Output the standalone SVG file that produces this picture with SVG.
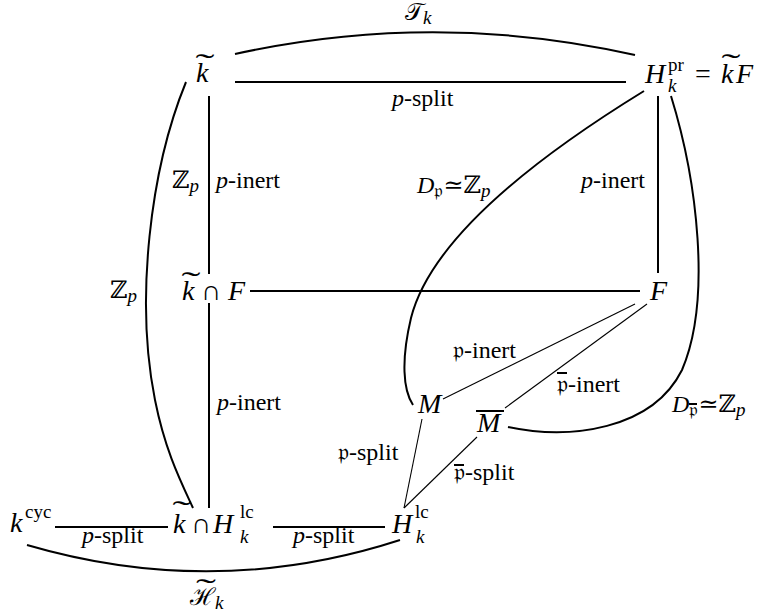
<svg xmlns="http://www.w3.org/2000/svg" width="761" height="613" viewBox="0 0 761 613">
<style>
text{font-family:"Liberation Serif","DejaVu Serif",serif;fill:#000}
.n{font-size:28px}
.l{font-size:24px}
.s{font-size:19px}
.i{font-style:italic}
.t{font-size:30px;text-anchor:middle}
.thick{fill:none;stroke:#000;stroke-width:2}
.thin{fill:none;stroke:#000;stroke-width:1.1}
</style>
<rect width="761" height="613" fill="#fff"/>
<g id="connectors">
<path class="thick" d="M235 54 Q435 10 635 55"/>
<path class="thick" d="M235 82 H626"/>
<path class="thick" d="M209 96 V274"/>
<path class="thick" d="M658 96 V273"/>
<path class="thick" d="M250 291 H640"/>
<path class="thick" d="M209 303 V508"/>
<path class="thick" d="M55 527 H168"/>
<path class="thick" d="M273 527 H385"/>
<path class="thick" d="M27 545 Q215 600 400 540"/>
<path class="thick" d="M186 82 C150 170 135 300 155 400 C165 450 180 480 193 508"/>
<path class="thick" d="M644 91 C548 150 432 235 411 318 C401 360 403 390 413 405"/>
<path class="thick" d="M671 96 C697 180 712 300 682 370 C652 430 570 440 508 427"/>
<path class="thin" d="M635 304 L443 399"/>
<path class="thin" d="M647 304 L505 408"/>
<path class="thin" d="M422 419 L404 508"/>
<path class="thin" d="M477 437 L404 508"/>
</g>
<g id="labels">
<text class="l" x="405" y="20"><tspan>𝒯</tspan><tspan class="i s" dy="4">k</tspan></text>
<text class="l" x="392" y="106"><tspan class="i">p</tspan>-split</text>
<text class="l" x="172" y="188"><tspan>ℤ</tspan><tspan class="i s" dy="4">p</tspan></text>
<text class="l" x="216" y="188"><tspan class="i">p</tspan>-inert</text>
<text class="l" x="417" y="193"><tspan class="i">D</tspan><tspan class="s" dy="4">𝔭</tspan><tspan dy="-4">≃ℤ</tspan><tspan class="i s" dy="4">p</tspan></text>
<text class="l" x="581" y="188"><tspan class="i">p</tspan>-inert</text>
<text class="l" x="110" y="298"><tspan>ℤ</tspan><tspan class="i s" dy="4">p</tspan></text>
<text class="l" x="217" y="410"><tspan class="i">p</tspan>-inert</text>
<text class="l" x="453" y="358">𝔭-inert</text>
<text class="l" x="557" y="392">𝔭-inert</text>
<path class="thick" d="M557 373 H567"/>
<text class="l" x="672" y="412"><tspan class="i">D</tspan><tspan class="s" dy="4">𝔭</tspan><tspan dy="-4">≃ℤ</tspan><tspan class="i s" dy="4">p</tspan></text>
<path class="thick" d="M689 404 H697"/>
<text class="l" x="338" y="460">𝔭-split</text>
<text class="l" x="454" y="480">𝔭-split</text>
<path class="thick" d="M454 465 H464"/>
<text class="l" x="82" y="543"><tspan class="i">p</tspan>-split</text>
<text class="l" x="293" y="543"><tspan class="i">p</tspan>-split</text>
<text class="l" x="190" y="605"><tspan>ℋ</tspan><tspan class="i s" dy="4">k</tspan></text>
<text class="t" transform="translate(206 599) scale(2 1)">˜</text>
</g>
<g id="node-ktilde">
<text class="n i" x="196" y="82">k</text>
<text class="t" transform="translate(205 74) scale(1.9 1)">˜</text>
</g>
<g id="node-Hpr">
<text class="n i" x="645" y="83">H</text>
<text class="s" x="668" y="71">pr</text>
<text class="s i" x="668" y="92">k</text>
<text class="n" x="695" y="83">=</text>
<text class="n i" x="721" y="83">k</text>
<text class="t" transform="translate(731 74) scale(1.9 1)">˜</text>
<text class="n i" x="736" y="83">F</text>
</g>
<g id="node-kcapF">
<text class="n i" x="182" y="300">k</text>
<text class="t" transform="translate(191 292) scale(1.9 1)">˜</text>
<text class="n" x="201" y="300">∩</text>
<text class="n i" x="228" y="300">F</text>
</g>
<g id="node-F">
<text class="n i" x="650" y="300">F</text>
</g>
<g id="node-M">
<text class="n i" x="418" y="413">M</text>
</g>
<g id="node-Mbar">
<text class="n i" x="477" y="432">M</text>
<path class="thick" d="M476 411 H504"/>
</g>
<g id="node-kcyc">
<text class="n i" x="10" y="532">k</text>
<text class="s" x="25" y="518">cyc</text>
</g>
<g id="node-kcapHlc">
<text class="n i" x="173" y="533">k</text>
<text class="t" transform="translate(182 521) scale(1.9 1)">˜</text>
<text class="n" x="191" y="533">∩</text>
<text class="n i" x="213" y="533">H</text>
<text class="s" x="240" y="518">lc</text>
<text class="s i" x="240" y="543">k</text>
</g>
<g id="node-Hlc">
<text class="n i" x="392" y="533">H</text>
<text class="s" x="415" y="518">lc</text>
<text class="s i" x="416" y="543">k</text>
</g>
</svg>
